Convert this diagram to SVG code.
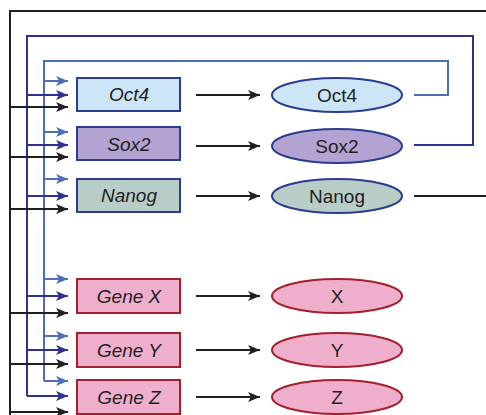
<svg xmlns="http://www.w3.org/2000/svg" width="486" height="415" viewBox="0 0 486 415">
<style>
.k{stroke:#231f20;stroke-width:2;fill:none}
.d{stroke:#2e3192;stroke-width:2;fill:none}
.l{stroke:#4d6fb8;stroke-width:2;fill:none}
.ak{marker-end:url(#mk)}
.ad{marker-end:url(#md)}
.al{marker-end:url(#ml)}
.bx{stroke-width:2}
.pl{stroke:#2a3d8f}
.gn{stroke:#a3202f;fill:#f0aecd}
.bt{font-family:"Liberation Sans",Arial,sans-serif;font-style:italic;font-size:19px;fill:#231f20;text-anchor:middle}
.et{font-family:"Liberation Sans",Arial,sans-serif;font-size:19px;fill:#231f20;text-anchor:middle}
</style>
<defs>
<marker id="mk" markerUnits="userSpaceOnUse" markerWidth="13" markerHeight="12" refX="12" refY="6" orient="auto"><path d="M0,1 L12,6 L0,11 L3,6 z" fill="#231f20"/></marker>
<marker id="md" markerUnits="userSpaceOnUse" markerWidth="13" markerHeight="12" refX="12" refY="6" orient="auto"><path d="M0,1 L12,6 L0,11 L3,6 z" fill="#2e3192"/></marker>
<marker id="ml" markerUnits="userSpaceOnUse" markerWidth="13" markerHeight="12" refX="12" refY="6" orient="auto"><path d="M0,1 L12,6 L0,11 L3,6 z" fill="#4d6fb8"/></marker>
</defs>
<g id="connectors">
<path class="k" d="M486,11 H10 V415"/>
<path class="k" d="M414,196 H486"/>
<path class="d" d="M414,145 H473 V36 H27 V396"/>
<path class="l" d="M414,95 H448 V61 H44 V381"/>
<path class="l al" d="M44,81 H68"/>
<path class="d ad" d="M27,95 H68"/>
<path class="k ak" d="M10,107 H68"/>
<path class="l al" d="M44,132 H68"/>
<path class="d ad" d="M27,145 H68"/>
<path class="k ak" d="M10,157 H68"/>
<path class="l al" d="M44,179 H68"/>
<path class="d ad" d="M27,196 H68"/>
<path class="k ak" d="M10,209 H68"/>
<path class="l al" d="M44,279 H68"/>
<path class="d ad" d="M27,296 H68"/>
<path class="k ak" d="M10,313 H68"/>
<path class="l al" d="M44,336 H68"/>
<path class="d ad" d="M27,350 H68"/>
<path class="k ak" d="M10,364 H68"/>
<path class="l al" d="M44,381 H68"/>
<path class="d ad" d="M27,396 H68"/>
<path class="k ak" d="M10,412 H68"/>
<path class="k ak" d="M196,95 H260"/>
<path class="k ak" d="M196,146 H260"/>
<path class="k ak" d="M196,196 H260"/>
<path class="k ak" d="M196,296 H260"/>
<path class="k ak" d="M196,350 H260"/>
<path class="k ak" d="M196,397 H260"/>
</g>
<g id="oct4-gene"><rect class="bx pl" x="77" y="78" width="103" height="33" fill="#cce6f8"/><text class="bt" x="129" y="101">Oct4</text></g>
<g id="sox2-gene"><rect class="bx pl" x="77" y="127" width="103" height="33" fill="#b3a3d3"/><text class="bt" x="129" y="151">Sox2</text></g>
<g id="nanog-gene"><rect class="bx pl" x="77" y="179" width="103" height="33" fill="#b8ccc8"/><text class="bt" x="129" y="202">Nanog</text></g>
<g id="genex"><rect class="bx gn" x="77" y="279" width="103" height="34"/><text class="bt" x="129" y="303">Gene X</text></g>
<g id="geney"><rect class="bx gn" x="77" y="333" width="103" height="34"/><text class="bt" x="129" y="357">Gene Y</text></g>
<g id="genez"><rect class="bx gn" x="77" y="380" width="103" height="34"/><text class="bt" x="129" y="404">Gene Z</text></g>
<g id="oct4-protein"><ellipse class="bx pl" cx="337" cy="95" rx="65" ry="17" fill="#cce6f8"/><text class="et" x="337" y="102">Oct4</text></g>
<g id="sox2-protein"><ellipse class="bx pl" cx="337" cy="146" rx="65" ry="17" fill="#b3a3d3"/><text class="et" x="337" y="153">Sox2</text></g>
<g id="nanog-protein"><ellipse class="bx pl" cx="337" cy="196" rx="65" ry="17" fill="#b8ccc8"/><text class="et" x="337" y="203">Nanog</text></g>
<g id="x-protein"><ellipse class="bx gn" cx="337" cy="296" rx="65" ry="17"/><text class="et" x="337" y="303">X</text></g>
<g id="y-protein"><ellipse class="bx gn" cx="337" cy="350" rx="65" ry="17"/><text class="et" x="337" y="357">Y</text></g>
<g id="z-protein"><ellipse class="bx gn" cx="337" cy="397" rx="65" ry="17"/><text class="et" x="337" y="404">Z</text></g>
</svg>
